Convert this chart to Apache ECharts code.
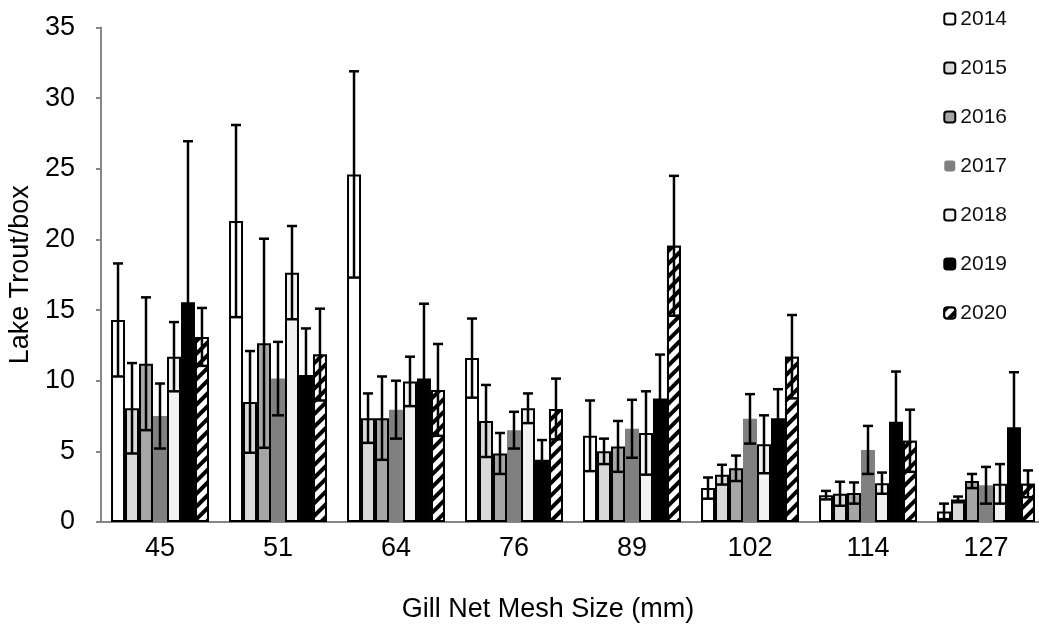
<!DOCTYPE html>
<html>
    <head>
        <meta charset="utf-8">
        <style>
            html, body { margin: 0; padding: 0; background: #fff; }
        </style>
    </head>
    <body>
        <div id="chart" style="width:1039px;height:637px"></div>
        <script src="https://cdn.jsdelivr.net/npm/echarts@6/dist/echarts.min.js"></script>
        <script type="text/javascript">

            // mesh sizes (mm) and sampling years
            let meshSizes = ['45', '51', '64', '76', '89', '102', '114', '127']
            let years = ['2014', '2015', '2016', '2017', '2018', '2019', '2020']
            let yTicks = [0, 5, 10, 15, 20, 25, 30, 35]

            // mean lake trout per box, one array per year
            let mean2014 = [14.3, 21.3, 24.6, 11.6, 6.1, 2.4, 1.9, 0.75]
            let mean2015 = [8.05, 8.5, 7.35, 7.15, 5.0, 3.35, 2.0, 1.6]
            let mean2016 = [11.2, 12.65, 7.35, 4.85, 5.35, 3.8, 2.05, 2.9]
            let mean2017 = [7.5, 10.15, 7.95, 6.5, 6.6, 7.3, 5.1, 2.6]
            let mean2018 = [11.7, 17.65, 9.95, 8.05, 6.3, 5.5, 2.75, 2.7]
            let mean2019 = [15.55, 10.4, 10.15, 4.4, 8.75, 7.35, 7.1, 6.7]
            let mean2020 = [13.1, 11.85, 9.35, 8.0, 19.55, 11.7, 5.75, 2.7]

            // error bar half lengths, same order
            let err2014 = [4.0, 6.8, 7.3, 2.8, 2.5, 0.75, 0.3, 0.55]
            let err2015 = [3.2, 3.6, 1.75, 2.55, 0.9, 0.7, 0.85, 0.2]
            let err2016 = [4.7, 7.4, 2.95, 1.45, 1.8, 0.9, 0.75, 0.5]
            let err2017 = [2.3, 2.6, 2.05, 1.3, 2.05, 1.75, 1.7, 1.3]
            let err2018 = [2.45, 3.3, 1.75, 1.05, 2.95, 2.05, 0.75, 1.4]
            let err2019 = [11.4, 3.3, 5.3, 1.4, 3.1, 2.05, 3.55, 3.9]
            let err2020 = [2.05, 3.25, 3.25, 2.15, 4.95, 2.95, 2.2, 0.95]

            let means = [mean2014, mean2015, mean2016, mean2017, mean2018, mean2019, mean2020]
            let errs = [err2014, err2015, err2016, err2017, err2018, err2019, err2020]

            let fills = ['#ffffff', '#d9d9d9', '#a6a6a6', '#808080', '#f2f2f2', '#000000', '#ffffff']
            let catGap = 0.17
            let font = "'Liberation Sans', Arial, sans-serif"

            var myChart = echarts.init(document.querySelector('#chart'))

            function barStyle(i) {
                let st = {
                    color: fills[i],
                    borderColor: '#000',
                    borderWidth: i === 3 ? 0 : 2
                }
                if (i === 6) {
                    // hatched 2020 bars
                    st.decal = {
                        symbol: 'rect',
                        symbolSize: 1,
                        dashArrayX: [1, 0],
                        dashArrayY: [3.5, 4.5],
                        rotation: -Math.PI / 4,
                        color: '#000',
                        backgroundColor: '#fff'
                    }
                }
                return st
            }

            let series = []
            years.forEach(function (y, i) {
                series.push({
                    name: y,
                    type: 'bar',
                    barGap: '0%',
                    barCategoryGap: (catGap * 100) + '%',
                    data: means[i],
                    itemStyle: barStyle(i),
                    emphasis: { disabled: true }
                })
            })

            // error bars drawn over the bars
            years.forEach(function (y, i) {
                series.push({
                    type: 'custom',
                    silent: true,
                    z: 5,
                    data: meshSizes.map(function (c, k) { return [k, means[i][k], errs[i][k]] }),
                    renderItem: function (params, api) {
                        let k = api.value(0), m = api.value(1), e = api.value(2)
                        let hi = api.coord([k, m + e])
                        let lo = api.coord([k, m - e])
                        let cw = api.size([1, 0])[0]
                        let bw = cw * (1 - catGap) / years.length
                        let cx = hi[0] - cw * (1 - catGap) / 2 + bw * (i + 0.5)
                        let capTop = 5
                        let capLow = bw / 2 - 1
                        let ls = { stroke: '#000', lineWidth: 2.5 }
                        return {
                            type: 'group',
                            children: [
                                { type: 'line', shape: { x1: cx, y1: hi[1], x2: cx, y2: lo[1] }, style: ls },
                                { type: 'line', shape: { x1: cx - capTop, y1: hi[1], x2: cx + capTop, y2: hi[1] }, style: ls },
                                { type: 'line', shape: { x1: cx - capLow, y1: lo[1], x2: cx + capLow, y2: lo[1] }, style: ls }
                            ]
                        }
                    }
                })
            })

            let option = {
                animation: false,
                textStyle: { fontFamily: font },
                grid: {
                    left: 101,
                    right: -6,
                    top: 27.5,
                    bottom: 115,
                    outerBoundsMode: 'none'
                },
                legend: {
                    data: years,
                    orient: 'vertical',
                    right: 27,
                    top: 2,
                    itemWidth: 11,
                    itemHeight: 11,
                    itemGap: 25,
                    selectedMode: false,
                    textStyle: { fontSize: 21, color: '#111', fontFamily: font, lineHeight: 24 }
                },
                xAxis: {
                    type: 'category',
                    data: meshSizes,
                    name: 'Gill Net Mesh Size (mm)',
                    nameLocation: 'middle',
                    nameGap: 74,
                    nameTextStyle: { fontSize: 27, color: '#000', fontFamily: font, padding: [0, 50, 0, 0] },
                    axisLine: { lineStyle: { color: '#868686', width: 2 } },
                    axisTick: { length: 7, lineStyle: { color: '#868686', width: 2 } },
                    axisLabel: { fontSize: 27, color: '#000', margin: 13, fontFamily: font }
                },
                yAxis: {
                    type: 'value',
                    min: yTicks[0],
                    max: yTicks[yTicks.length - 1],
                    interval: yTicks[1] - yTicks[0],
                    name: 'Lake Trout/box',
                    nameLocation: 'middle',
                    nameGap: 64,
                    nameTextStyle: { fontSize: 27, color: '#000', fontFamily: font },
                    axisLine: { show: true, lineStyle: { color: '#868686', width: 2 } },
                    axisTick: { show: true, length: 5, lineStyle: { color: '#868686', width: 2 } },
                    axisLabel: { fontSize: 27, color: '#000', margin: 26, fontFamily: font },
                    splitLine: { show: false }
                },
                series: series
            }
            myChart.setOption(option)
        </script>
    </body>
</html>
